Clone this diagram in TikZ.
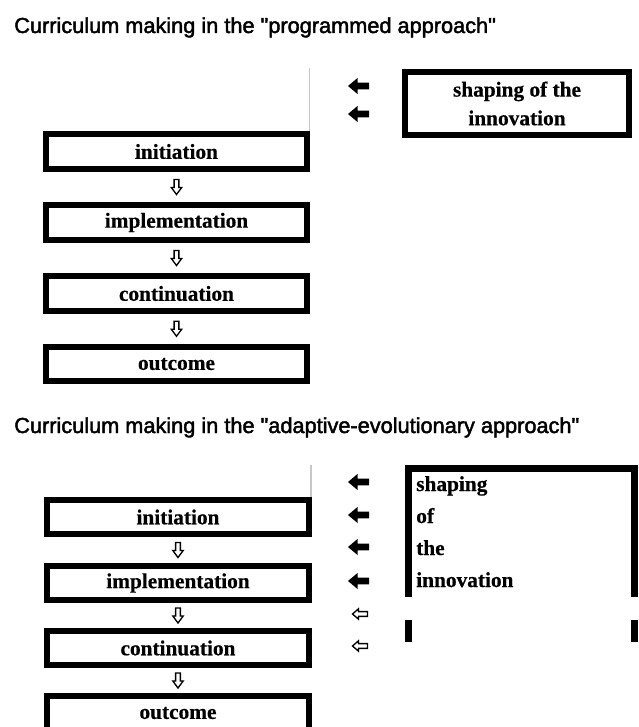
\documentclass[tikz,border=0pt]{standalone}
\usepackage{fontspec}
\setmainfont{Liberation Serif}
\newfontfamily\titlefont[FakeBold=2]{Liberation Sans}
\newfontfamily\boxfont[BoldFeatures={FakeBold=0.5}]{Liberation Serif}
\usetikzlibrary{calc}
\tikzset{
  stagebox/.style={draw, line width=4.6pt, minimum width=196pt, minimum height=26pt, inner sep=0pt,
    font=\boxfont\fontsize{16}{19}\selectfont\bfseries},
  shapebox/.style={draw, line width=4.6pt, inner sep=0pt, align=center,
    font=\boxfont\fontsize{16}{21.5}\selectfont\bfseries},
  openline/.style={line width=4.6pt, line join=miter},
  linetext/.style={anchor=base west, inner sep=0pt, font=\boxfont\fontsize{16}{19}\selectfont\bfseries},
  titletext/.style={anchor=base west, inner sep=0pt, font=\titlefont\fontsize{16.3}{19}\selectfont},
  greyline/.style={draw=black!22, line width=0.8pt},
  hollowdown/.pic={\draw[line width=1pt, line join=miter]
    (-2.4,-7.5) -- (2.4,-7.5) -- (2.4,0.5) -- (5.2,0.5) -- (0,7.5) -- (-5.2,0.5) -- (-2.4,0.5) -- cycle;},
  solidleft/.pic={\fill
    (-10.5,0) -- (-1,-8) -- (-1,-3.3) -- (10.5,-3.3) -- (10.5,3.3) -- (-1,3.3) -- (-1,8) -- cycle;},
  hollowleft/.pic={\draw[line width=1pt, line join=miter]
    (-7.5,0) -- (-1.5,-5.2) -- (-1.5,-2.4) -- (7.5,-2.4) -- (7.5,2.4) -- (-1.5,2.4) -- (-1.5,5.2) -- cycle;},
}
\begin{document}
\begin{tikzpicture}[x=0.75pt,y=-0.75pt]
\useasboundingbox (0,0) rectangle (638,727);
\clip (0,0) rectangle (638,727);

% ---------- programmed approach ----------
\node[titletext] (t1) at (14,33) {Curriculum making in the "programmed approach"};

\node[stagebox] (a1) at (176.5,151.5) {initiation};
\node[stagebox] (a2) at (176.5,222.5) {implementation};
\node[stagebox] (a3) at (176.5,293.5) {continuation};
\node[stagebox] (a4) at (176.5,364) {outcome};

\coordinate (g1) at (309.5,68);
\draw[greyline] (g1) -- (g1 |- a1.north);

\pic at ($(a1.south)!0.5!(a2.north)$) {hollowdown};
\pic at ($(a2.south)!0.5!(a3.north)$) {hollowdown};
\pic at ($(a3.south)!0.5!(a4.north)$) {hollowdown};

\node[shapebox, minimum width=168pt, minimum height=47.5pt] (s1) at (517,103.5)
  {shaping of the\\innovation};

\pic at (358.5,86) {solidleft};
\pic at (358.5,114) {solidleft};

% ---------- adaptive-evolutionary approach ----------
\node[titletext] (t2) at (14,433) {Curriculum making in the "adaptive-evolutionary approach"};

\node[stagebox, minimum height=25.5pt] (b1) at (178,517) {initiation};
\node[stagebox, minimum height=25.5pt] (b2) at (178,583) {implementation};
\node[stagebox, minimum height=25.5pt] (b3) at (178,648) {continuation};
\node[stagebox, minimum height=25.5pt] (b4) at (178,713) {outcome};

\coordinate (g2) at (311,465);
\draw[greyline] (g2) -- (g2 |- b1.north);

\pic at ($(b1.south)!0.5!(b2.north)$) {hollowdown};
\pic at ($(b2.south)!0.5!(b3.north)$) {hollowdown};
\pic at ($(b3.south)!0.5!(b4.north)$) {hollowdown};

% open "shaping" frame
\coordinate (fl) at (408.5,468.5);
\coordinate (fr) at (634.5,468.5);
\draw[openline] (408.5,597) -- (fl) -- (fr) -- (634.5,597);
\draw[openline] (408.5,620) -- (408.5,642);
\draw[openline] (634.5,620) -- (634.5,642);

\node[linetext] (l1) at (416,491) {shaping};
\node[linetext] (l2) at (416,523) {of};
\node[linetext] (l3) at (416,555) {the};
\node[linetext] (l4) at (416,587) {innovation};

\pic at (358.5,482) {solidleft};
\pic at (358.5,515) {solidleft};
\pic at (358.5,547) {solidleft};
\pic at (358.5,581) {solidleft};
\pic at (360,614) {hollowleft};
\pic at (360,646) {hollowleft};
\end{tikzpicture}
\end{document}
